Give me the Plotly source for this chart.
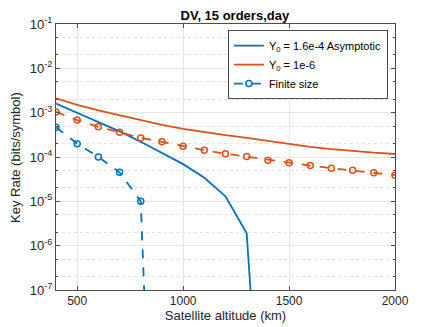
import plotly.graph_objects as go

# altitudes (km)
alt_asym = [400, 500, 600, 700, 800, 900, 1000, 1100, 1200, 1300, 1400]
rate_asym_blue = [1.6e-3, 1.0e-3, 6.3e-4, 3.8e-4, 2.2e-4, 1.25e-4, 6.9e-5, 3.4e-5, 1.3e-5, 1.9e-6, 1.5e-13]

alt_full = [400, 500, 600, 700, 800, 900, 1000, 1100, 1200, 1300, 1400,
            1500, 1600, 1700, 1800, 1900, 2000]
rate_asym_orange = [2.1e-3, 1.5e-3, 1.12e-3, 8.7e-4, 7.0e-4, 5.3e-4, 4.3e-4, 3.6e-4,
                    3.1e-4, 2.7e-4, 2.3e-4, 1.96e-4, 1.7e-4, 1.5e-4, 1.35e-4, 1.25e-4, 1.17e-4]
rate_finite_orange = [1.04e-3, 6.8e-4, 4.8e-4, 3.6e-4, 2.7e-4, 2.2e-4, 1.74e-4, 1.42e-4,
                      1.19e-4, 1.02e-4, 8.5e-5, 7.4e-5, 6.4e-5, 5.6e-5, 5.0e-5, 4.4e-5, 3.9e-5]

alt_finite_blue = [400, 500, 600, 700, 800, 900]
rate_finite_blue = [4.7e-4, 2.0e-4, 1.0e-4, 4.5e-5, 1.0e-5, 3e-18]

y_tickvals = [1e-7, 1e-6, 1e-5, 1e-4, 1e-3, 1e-2, 1e-1]
y_ticktext = ["10<sup>-7</sup>", "10<sup>-6</sup>", "10<sup>-5</sup>", "10<sup>-4</sup>",
              "10<sup>-3</sup>", "10<sup>-2</sup>", "10<sup>-1</sup>"]

BLUE = "#0072BD"
ORANGE = "#D95319"
AXIS = "#4d4d4d"

fig = go.Figure()
fig.add_trace(go.Scatter(
    x=alt_asym, y=rate_asym_blue, mode="lines",
    name="Y<sub>0</sub> = 1.6e-4 Asymptotic",
    line={"color": BLUE, "width": 1.8},
))
fig.add_trace(go.Scatter(
    x=alt_full, y=rate_asym_orange, mode="lines",
    name="Y<sub>0</sub> = 1e-6",
    line={"color": ORANGE, "width": 1.8},
))
fig.add_trace(go.Scatter(
    x=alt_finite_blue, y=rate_finite_blue, mode="lines+markers",
    name="Finite size",
    line={"color": BLUE, "width": 1.8, "dash": "dash"},
    marker={"symbol": "circle-open", "size": 6, "color": BLUE, "line": {"width": 1.5}},
))
fig.add_trace(go.Scatter(
    x=alt_full, y=rate_finite_orange, mode="lines+markers",
    showlegend=False,
    line={"color": ORANGE, "width": 1.8, "dash": "dash"},
    marker={"symbol": "circle-open", "size": 6, "color": ORANGE, "line": {"width": 1.5}},
))

# y title placed by hand, further out than plotly's standoff allows
fig.add_annotation(
    text="Key Rate (bits/symbol)",
    xref="paper", yref="paper", x=-0.121, y=0.5,
    xanchor="center", yanchor="middle",
    textangle=-90, showarrow=False,
    font={"size": 13, "color": "#262626"},
)

# the page body adds an 8px offset, so the figure is sized to fit inside it
fig.update_layout(
    width=428,
    height=319,
    margin={"l": 48, "r": 41, "t": 16, "b": 37, "autoexpand": False},
    paper_bgcolor="white",
    plot_bgcolor="white",
    font={"family": "Liberation Sans, Arial, sans-serif", "size": 12, "color": "#262626"},
    title={
        "text": "<b>DV, 15 orders,day</b>",
        "x": 0.53, "xanchor": "center", "y": 0.978, "yanchor": "middle",
        "font": {"size": 13, "color": "#000000"},
    },
    showlegend=True,
    legend={
        "x": 0.979, "xanchor": "right", "y": 0.977, "yanchor": "top",
        "bgcolor": "white", "bordercolor": AXIS, "borderwidth": 1,
        "font": {"size": 11, "color": "#000000"},
        "tracegroupgap": 0, "itemwidth": 30,
    },
    xaxis={
        "range": [400, 2000],
        "tickvals": [500, 1000, 1500, 2000],
        "ticks": "inside", "ticklen": 4, "tickcolor": AXIS,
        "showline": True, "linecolor": AXIS, "linewidth": 1, "mirror": "ticks",
        "showgrid": True, "gridcolor": "#e6e6e6", "gridwidth": 1,
        "zeroline": False, "automargin": False,
        "tickfont": {"size": 12},
        "title": {"text": "Satellite altitude (km)", "font": {"size": 13}, "standoff": 2},
    },
    yaxis={
        "type": "log",
        "range": [-7, -1],
        "tickvals": y_tickvals, "ticktext": y_ticktext,
        "ticks": "inside", "ticklen": 4, "tickcolor": AXIS,
        "showline": True, "linecolor": AXIS, "linewidth": 1, "mirror": "ticks",
        "showgrid": True, "gridcolor": "#e6e6e6", "gridwidth": 1,
        "zeroline": False, "automargin": False,
        "tickfont": {"size": 13},
        "minor": {"ticks": "inside", "ticklen": 2, "tickcolor": AXIS,
                  "showgrid": True, "gridcolor": "#e3e3e3", "griddash": "dot"},
    },
)

fig.write_html("out.html")
